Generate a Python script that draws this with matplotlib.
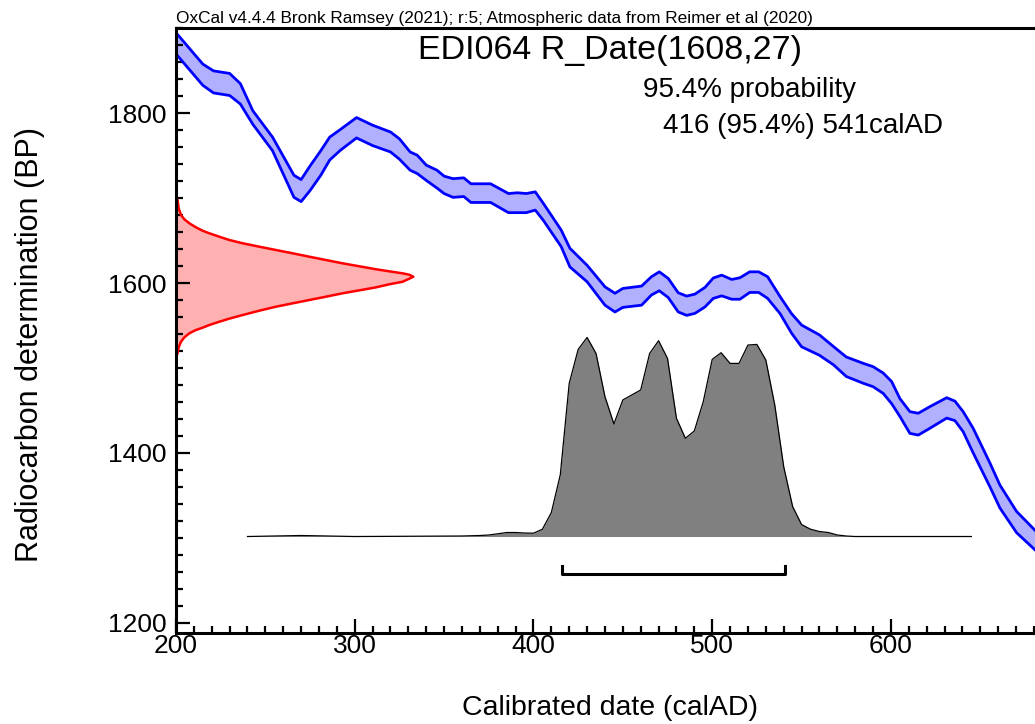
import matplotlib
matplotlib.use('Agg')
import matplotlib.pyplot as plt
from matplotlib.ticker import MultipleLocator

plt.rcParams['font.family'] = ['Liberation Sans', 'DejaVu Sans']

# calibration curve (IntCal20), upper and lower edge of the band, BP
cal_year = [200, 215, 221, 230, 236, 243, 254, 266, 270, 275, 281, 286, 292, 301, 310, 320,
            325, 331, 335, 340, 346, 350, 355, 361, 365, 376, 386, 391, 396, 401, 405.5,
            415.5, 420.4, 430, 440, 445.6, 450, 460.5, 466, 470.4, 475.4, 481, 485.7, 490.3,
            496, 500.6, 505.3, 510.9, 515.5, 521, 526, 531, 538, 544.4, 550, 560, 568, 575,
            584.5, 590, 595.7, 600.4, 605, 610.6, 615.3, 621.8, 631.2, 635.8, 640.4, 646,
            655.4, 661, 670.3, 681]
curve_hi = [1895, 1858, 1850, 1847, 1835, 1803, 1772, 1727, 1722, 1738, 1756, 1772, 1781, 1795,
            1786, 1778, 1770, 1754.5, 1750.6, 1739, 1733, 1726, 1723, 1724, 1717, 1717, 1705.5,
            1706.4, 1705.5, 1707.5, 1694, 1662.5, 1641, 1621, 1595.6, 1588, 1593.7, 1596.5,
            1607.5, 1613.3, 1605.5, 1588.6, 1584.7, 1587, 1595, 1606, 1609.4, 1604.3, 1606.3,
            1613.3, 1613.3, 1607.5, 1584, 1564, 1550.6, 1539, 1525, 1513, 1505.5, 1501.6, 1494,
            1484, 1464, 1448.6, 1446.7, 1454.5, 1465, 1461, 1448.6, 1429, 1388, 1362, 1331, 1308]
curve_lo = [1870, 1833, 1824, 1821, 1811, 1787, 1756, 1701, 1696, 1709, 1727, 1745, 1756.5, 1771,
            1762, 1754.5, 1746, 1733, 1729, 1721, 1712, 1705.5, 1701, 1702, 1695, 1695, 1683,
            1683, 1683, 1686, 1674, 1643, 1619, 1601.6, 1574, 1566, 1571.4, 1574, 1586, 1591,
            1583, 1566, 1562, 1564.3, 1572, 1582, 1585, 1581, 1581, 1589, 1589, 1582, 1564, 1541,
            1525, 1515, 1503.5, 1490, 1482, 1478, 1470, 1458, 1443, 1423, 1421, 1429, 1441, 1438,
            1425, 1400, 1360, 1335, 1306, 1285]

# R_Date(1608,27) as drawn on the y axis: BP and width in years from the axis
date_bp = [1701, 1697.9, 1688.1, 1680.2, 1675.1, 1670.4, 1665.7, 1661.7, 1658.7, 1654.7,
           1650.8, 1646.9, 1642.9, 1639, 1635.1, 1631.1, 1627.2, 1623.3, 1619.8, 1616.3,
           1613.9, 1611.5, 1609.9, 1607.5,
           1605.2, 1601.6, 1598.6, 1595, 1591.5, 1588, 1584, 1580.1, 1576.2, 1572.2, 1567.5,
           1562.4, 1558.1, 1554.5, 1550.6, 1547.5, 1544.8, 1540.9, 1536.2, 1531, 1524.4,
           1517.3, 1514]
date_w = [0, 0.9, 1.5, 2.8, 4.7, 7.5, 11.2, 14.9, 18.6, 24.2,
          29.8, 37.3, 46.6, 55.9, 65.3, 74.6, 83.9, 93.2, 102.6, 111.9,
          119.3, 126.8, 130.5, 132.8,
          130.5, 126.8, 119.3, 111.9, 102.6, 93.2, 83.9, 74.6, 65.3, 55.9, 46.6,
          37.3, 29.8, 24.2, 18.6, 14.9, 11.2, 7.5, 4.7, 2.8, 1.5,
          0.9, 0]

# calibrated probability (relative to the peak)
prob_year = [240, 270, 300, 360, 370, 375, 380, 385, 390, 395, 400, 405, 410, 415, 420, 425,
             430, 435, 440, 445, 450, 455, 460, 465, 470, 475, 480, 485, 490, 495, 500, 505,
             510, 515, 520, 525, 530, 535, 540, 545, 550, 555, 560, 565, 570, 575, 580, 645]
prob = [0, 1, 0, 0.5, 1, 1.5, 2.7, 4, 4, 3.5, 3.3, 7.3, 24, 61.7, 153.3, 187.3,
        199.3, 183.3, 140, 112.7, 136.7, 141.7, 146.7, 183.3, 196, 178.3, 118.3, 98.3, 105.7,
        135, 177.3, 184, 173.3, 173.3, 191.7, 192.3, 176.7, 131.7, 70, 30, 12, 7.3, 5, 4,
        1.5, 0.5, 0, 0]
prob = [p / 199.3 for p in prob]

range_95 = (416, 541)

fig = plt.figure(figsize=(10.35, 7.24), dpi=100)
ax = fig.add_axes([176 / 1035, 1 - 632.7 / 724, 1 - 176 / 1035, (632.7 - 28) / 724])

ax.fill_between(cal_year, curve_lo, curve_hi, color='#b0b0ff', lw=0)
ax.plot(cal_year, curve_hi, color='#0000ff', lw=2, solid_joinstyle='round')
ax.plot(cal_year, curve_lo, color='#0000ff', lw=2, solid_joinstyle='round')

xs = [200 + w for w in date_w]
ax.fill_betweenx(date_bp, 200, xs, color='#ffb0b0', lw=0)
ax.plot(xs, date_bp, color='#ff0000', lw=1.8, solid_joinstyle='round')

base = 1301.5
scale = 234.5
py = [base + p * scale for p in prob]
ax.fill_between(prob_year, base, py, color='#808080', lw=0)
ax.plot(prob_year, py, color='black', lw=0.9)

ax.plot([range_95[0], range_95[0], range_95[1], range_95[1]], [1267, 1257.5, 1257.5, 1267],
        color='black', lw=2.2)

ax.set_xlim(200, 680.6)
ax.set_ylim(1188.2, 1900.5)
ax.xaxis.set_major_locator(MultipleLocator(100))
ax.xaxis.set_minor_locator(MultipleLocator(10))
ax.yaxis.set_major_locator(MultipleLocator(200))
ax.yaxis.set_minor_locator(MultipleLocator(20))
ax.tick_params(which='both', direction='in', width=1.6, top=False, right=False)
ax.tick_params(which='major', length=10, labelsize=19)
ax.tick_params(axis='x', which='major', pad=1)
ax.tick_params(axis='y', which='major', pad=7)
ax.tick_params(which='minor', length=5)
for s in ['left', 'bottom', 'top']:
    ax.spines[s].set_linewidth(2.2)
ax.spines['right'].set_visible(False)

fig.text(176 / 1035, 1 - 19 / 724,
         'OxCal v4.4.4 Bronk Ramsey (2021); r:5; Atmospheric data from Reimer et al (2020)',
         fontsize=12.4, ha='left', va='center')
fig.text(609.5 / 1035, 1 - 50 / 724, 'EDI064 R_Date(1608,27)', fontsize=24.5, ha='center', va='center')
fig.text(643 / 1035, 1 - 90 / 724, '95.4% probability', fontsize=20, ha='left', va='center')
fig.text(663 / 1035, 1 - 126 / 724, '416 (95.4%) 541calAD', fontsize=20, ha='left', va='center')
fig.text(610 / 1035, 1 - 708 / 724, 'Calibrated date (calAD)', fontsize=20.5, ha='center', va='center')
fig.text(30 / 1035, 1 - 344 / 724, 'Radiocarbon determination (BP)', fontsize=22, ha='center',
         va='center', rotation=90)

fig.savefig('out.png', dpi=100)
